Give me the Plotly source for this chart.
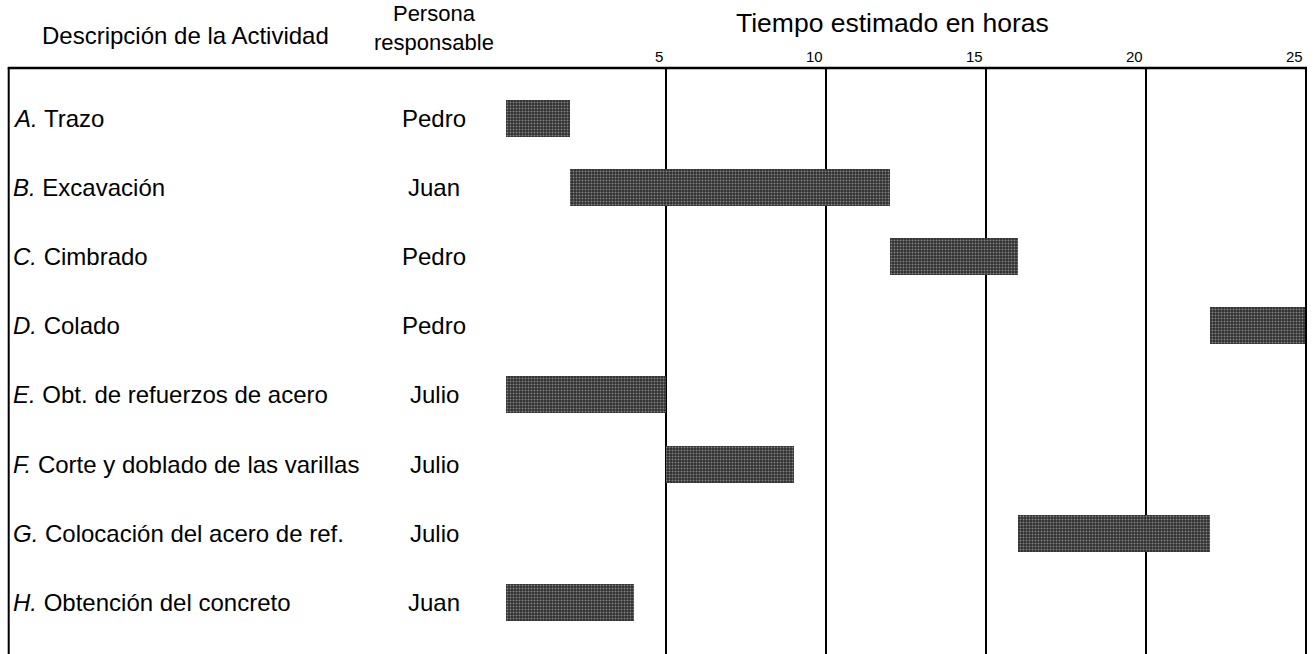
import plotly.graph_objects as go

# ---- data ----
letras = ["A", "B", "C", "D", "E", "F", "G", "H"]
descripciones = [
    "Trazo",
    "Excavación",
    "Cimbrado",
    "Colado",
    "Obt. de refuerzos de acero",
    "Corte y doblado de las varillas",
    "Colocación del acero de ref.",
    "Obtención del concreto",
]
responsables = ["Pedro", "Juan", "Pedro", "Pedro", "Julio", "Julio", "Julio", "Juan"]
inicio = [0, 2, 12, 22, 0, 5, 16, 0]
duracion = [2, 10, 4, 3, 5, 4, 6, 4]
ticks = [5, 10, 15, 20, 25]

# ---- layout geometry (pixels) ----
W, H = 1316, 654
L, R, T, B = 506, 10, 68, 0
PW = W - L - R
PH = H - T - B


def px(X):
    return (X - L) / PW


def py(Y):
    return (H - B - Y) / PH


FONT = "Liberation Sans, Arial, sans-serif"

fig = go.Figure()
fig.add_trace(
    go.Bar(
        y=letras,
        x=duracion,
        base=inicio,
        orientation="h",
        width=0.535,
        marker=dict(
            color="#2e2e2e",
            line=dict(width=0),
            pattern=dict(shape=".", fgcolor="#d8d8d8", bgcolor="#2e2e2e", size=3, solidity=0.35),
        ),
        hoverinfo="skip",
        showlegend=False,
    )
)

annotations = []
for i, (l, d, r) in enumerate(zip(letras, descripciones, responsables)):
    annotations.append(
        dict(
            x=px(10.5), y=l, xref="paper", yref="y", xanchor="left", yanchor="middle",
            text=f"<i>{l}.</i> {d}", showarrow=False,
            font=dict(family=FONT, size=24, color="black"),
        )
    )
    annotations.append(
        dict(
            x=px(434), y=l, xref="paper", yref="y", xanchor="center", yanchor="middle",
            text=r, showarrow=False,
            font=dict(family=FONT, size=24, color="black"),
        )
    )

for t in ticks:
    annotations.append(
        dict(
            x=t, y=py(56.5), xref="x", yref="paper", xanchor="right", yanchor="middle",
            xshift=-1, text=str(t), showarrow=False,
            font=dict(family=FONT, size=15, color="black"),
        )
    )

annotations += [
    dict(x=px(185), y=py(35.5), xref="paper", yref="paper", xanchor="center", yanchor="middle",
         text="Descripción de la Actividad", showarrow=False,
         font=dict(family=FONT, size=24, color="black")),
    dict(x=px(434), y=py(28), xref="paper", yref="paper", xanchor="center", yanchor="middle",
         text="Persona<br>responsable", showarrow=False,
         font=dict(family=FONT, size=22, color="black")),
    dict(x=px(892), y=py(23), xref="paper", yref="paper", xanchor="center", yanchor="middle",
         text="Tiempo estimado en horas", showarrow=False,
         font=dict(family=FONT, size=26.5, color="black")),
]

shapes = [
    dict(type="line", xref="paper", yref="paper", x0=px(7.7), x1=px(1307), y0=1, y1=1,
         line=dict(color="black", width=2.5)),
    dict(type="line", xref="paper", yref="paper", x0=px(8.7), x1=px(8.7), y0=1, y1=0,
         line=dict(color="black", width=2)),
    dict(type="line", xref="paper", yref="paper", x0=1, x1=1, y0=1, y1=0,
         line=dict(color="black", width=2)),
]

fig.update_layout(
    width=W, height=H,
    margin=dict(l=L, r=R, t=T, b=B, pad=0),
    paper_bgcolor="white", plot_bgcolor="white",
    annotations=annotations, shapes=shapes,
    bargap=0,
)
fig.update_xaxes(
    range=[0, 25], tickvals=ticks, showticklabels=False, showgrid=True,
    gridcolor="black", gridwidth=2, zeroline=False, showline=False, ticks="",
    fixedrange=True,
)
fig.update_yaxes(
    type="category", categoryarray=letras, range=[7.743, -0.725],
    showticklabels=False, showgrid=False, zeroline=False, showline=False, ticks="",
    fixedrange=True,
)

fig.write_html("out.html", config={"displayModeBar": False})
